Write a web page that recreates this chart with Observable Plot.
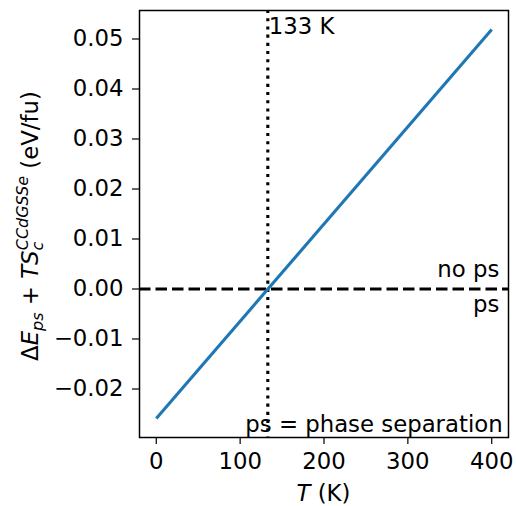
<!DOCTYPE html>
<html>
<head>
<meta charset="utf-8">
<script src="https://cdn.jsdelivr.net/npm/d3@7"></script>
<script src="https://cdn.jsdelivr.net/npm/@observablehq/plot@0.6"></script>
<style>
  body { margin: 0; background: #fff; }
  svg { font-family: "DejaVu Sans", sans-serif; }
</style>
</head>
<body>
<div id="chart"></div>
<script>
// Data
const temperatures = [0, 400];                 // T (K)
const energies = [-0.0259, 0.0519];            // ΔE_ps + T S_c (eV/fu)
const criticalT = [133];                       // crossing temperature
const criticalLabel = ["133 K"];
const zeroLine = [0];
const regionLabels = ["no ps", "ps"];
const noteLabel = ["ps = phase separation"];
const xTicks = [0, 100, 200, 300, 400];
const yTicks = [-0.02, -0.01, 0.00, 0.01, 0.02, 0.03, 0.04, 0.05];

const series = temperatures.map((t, i) => ({T: t, E: energies[i]}));
const fs = 22.8;

const plot = Plot.plot({
  width: 516,
  height: 506,
  marginLeft: 139,
  marginRight: 8,
  marginTop: 10,
  marginBottom: 69,
  style: {fontSize: fs + "px", fontFamily: "DejaVu Sans", color: "black", background: "white"},
  x: {domain: [-20, 420], ticks: xTicks, tickSize: 7, tickPadding: 8, label: null},
  y: {domain: [-0.0297, 0.0557], ticks: yTicks, tickSize: 7, tickPadding: 9, tickFormat: d3.format(".2f"), label: null},
  marks: [
    Plot.axisX({ticks: xTicks, tickSize: 7, tickPadding: 8, label: null, stroke: "black", strokeWidth: 1.2, strokeOpacity: 1, fontSize: fs}),
    Plot.axisY({ticks: yTicks, tickSize: 7, tickPadding: 9, tickFormat: d3.format(".2f"), label: null, stroke: "black", strokeWidth: 1.2, strokeOpacity: 1, fontSize: fs}),
    Plot.ruleX(criticalT, {x: d => d, stroke: "black", strokeWidth: 3.1, strokeDasharray: "3.1,5.1", strokeLinecap: "butt"}),
    Plot.ruleY(zeroLine, {y: d => d, stroke: "black", strokeWidth: 3.1, strokeDasharray: "11.5,5", strokeLinecap: "butt"}),
    Plot.line(series, {x: "T", y: "E", stroke: "#1f77b4", strokeWidth: 3.1, strokeLinecap: "butt"}),
    Plot.text(criticalLabel, {x: criticalT[0], y: 0.0511, text: d => d, textAnchor: "start", lineAnchor: "bottom", dx: 1, fill: "black", fontSize: fs}),
    Plot.text([regionLabels[0]], {x: 409, y: 0.0024, text: d => d, textAnchor: "end", lineAnchor: "bottom", fill: "black", fontSize: fs}),
    Plot.text([regionLabels[1]], {x: 409, y: -0.0046, text: d => d, textAnchor: "end", lineAnchor: "bottom", fill: "black", fontSize: fs}),
    Plot.text(noteLabel, {x: 413, y: -0.0285, text: d => d, textAnchor: "end", lineAnchor: "bottom", fill: "black", fontSize: fs}),
    Plot.frame({stroke: "black", strokeWidth: 1.5})
  ]
});

const svg = d3.select(plot);

// x label: T (K)
const xl = svg.append("text")
  .attr("x", 323.5).attr("y", 501)
  .attr("text-anchor", "middle")
  .attr("font-size", fs).attr("fill", "black");
xl.append("tspan").attr("font-style", "italic").text("T");
xl.append("tspan").text(" (K)");

// y label: ΔE_ps + T S_c^CCdGSSe (eV/fu)
const sub = fs * 0.7;
const yl = svg.append("text")
  .attr("transform", "translate(38,226) rotate(-90)")
  .attr("text-anchor", "middle")
  .attr("font-size", fs).attr("fill", "black");
yl.append("tspan").text("Δ");
yl.append("tspan").attr("font-style", "italic").text("E");
yl.append("tspan").attr("font-style", "italic").attr("font-size", sub).attr("dy", 5).text("ps");
yl.append("tspan").attr("dy", -5).text(" + ");
yl.append("tspan").attr("font-style", "italic").text("TS");
yl.append("tspan").attr("font-style", "italic").attr("font-size", sub).attr("dy", 5).text("c");
yl.append("tspan").attr("font-style", "italic").attr("font-size", sub).attr("dx", -8.5).attr("dy", -15).text("CCdGSSe");
yl.append("tspan").attr("dy", 10).text(" (eV/fu)");

document.getElementById("chart").appendChild(plot);
</script>
</body>
</html>
